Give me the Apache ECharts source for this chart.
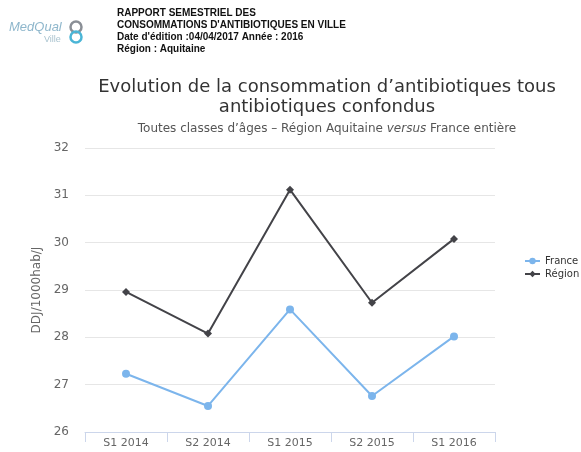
<!DOCTYPE html>
<html>
<head>
<meta charset="utf-8">
<script src="https://cdn.jsdelivr.net/npm/echarts@6/dist/echarts.min.js"></script>
<style>
  html, body { margin: 0; padding: 0; background: #fff; }
  #chart { width: 581px; height: 452px; }
</style>
</head>
<body>
<div id="chart"></div>
<script>
// semesters
const categories = ["S1 2014", "S2 2014", "S1 2015", "S2 2015", "S1 2016"];
const franceData = [27.23, 26.55, 28.59, 26.76, 28.02];
const regionData = [28.96, 28.08, 31.12, 28.73, 30.08];
const headerLines = [
  "RAPPORT SEMESTRIEL DES",
  "CONSOMMATIONS D'ANTIBIOTIQUES EN VILLE",
  "Date d'édition :04/04/2017 Année : 2016",
  "Région : Aquitaine",
];

let myChart = echarts.init(document.getElementById("chart"));

let headerGraphics = headerLines.map((line, i) => ({
  type: "text",
  left: 117,
  top: 8 + i * 12,
  style: {
    text: line,
    fill: "#111",
    font: "bold 10px 'Liberation Sans', Arial, sans-serif",
  },
}));

// rough logo
let logo = [
  {
    type: "text", left: 9, top: 21,
    style: { text: "MedQual", fill: "#8fb7cc", font: "italic 13px 'Liberation Sans', sans-serif" },
  },
  {
    type: "text", left: 44, top: 35,
    style: { text: "Ville", fill: "#a9c3cf", font: "9px 'Liberation Sans', sans-serif" },
  },
  {
    type: "circle", shape: { cx: 76, cy: 27, r: 5.5 },
    style: { fill: "none", stroke: "#8a8f96", lineWidth: 2.5 },
  },
  {
    type: "circle", shape: { cx: 76, cy: 37, r: 5.5 },
    style: { fill: "none", stroke: "#4bb5d6", lineWidth: 2.5 },
  },
];

let option = {
  animation: false,
  title: {
    text: "Evolution de la consommation d’antibiotiques tous\nantibiotiques confondus",
    subtext: "Toutes classes d’âges – Région Aquitaine {i|versus} France entière",
    left: 322,
    textAlign: "center",
    top: 72,
    itemGap: 6,
    textStyle: {
      color: "#333",
      fontSize: 18,
      fontWeight: "normal",
      fontFamily: "DejaVu Sans",
      lineHeight: 20,
    },
    subtextStyle: {
      color: "#555",
      fontSize: 12,
      fontFamily: "DejaVu Sans",
      rich: {
        i: { fontStyle: "italic", color: "#555", fontSize: 12, fontFamily: "DejaVu Sans" },
      },
    },
  },
  legend: {
    orient: "vertical",
    left: 519,
    top: 251,
    itemGap: 3,
    itemWidth: 15,
    itemHeight: 8,
    textStyle: { color: "#333", fontSize: 10, fontFamily: "DejaVu Sans" },
    data: ["France", "Région"],
  },
  grid: {
    left: 85,
    right: 86,
    top: 148,
    bottom: 20,
  },
  xAxis: {
    type: "category",
    data: categories,
    axisLine: { lineStyle: { color: "#ccd6eb" } },
    axisTick: { show: true, length: 10, lineStyle: { color: "#ccd6eb" } },
    axisLabel: { color: "#666", fontSize: 11, fontFamily: "DejaVu Sans", margin: 6 },
  },
  yAxis: {
    type: "value",
    min: 26,
    max: 32,
    interval: 1,
    name: "DDJ/1000hab/J",
    nameLocation: "middle",
    nameGap: 37,
    nameTextStyle: { color: "#666", fontSize: 12, fontFamily: "DejaVu Sans" },
    axisLine: { show: false },
    axisTick: { show: false },
    axisLabel: { color: "#666", fontSize: 12, fontFamily: "DejaVu Sans", margin: 16 },
    splitLine: { lineStyle: { color: "#e6e6e6" } },
  },
  series: [
    {
      name: "France",
      type: "line",
      data: franceData,
      symbol: "circle",
      symbolSize: 8,
      itemStyle: { color: "#7cb5ec" },
      lineStyle: { width: 2, color: "#7cb5ec" },
    },
    {
      name: "Région",
      type: "line",
      data: regionData,
      symbol: "diamond",
      symbolSize: 8,
      itemStyle: { color: "#434348" },
      lineStyle: { width: 2, color: "#434348" },
    },
  ],
  graphic: headerGraphics.concat(logo),
};
myChart.setOption(option);
</script>
</body>
</html>
